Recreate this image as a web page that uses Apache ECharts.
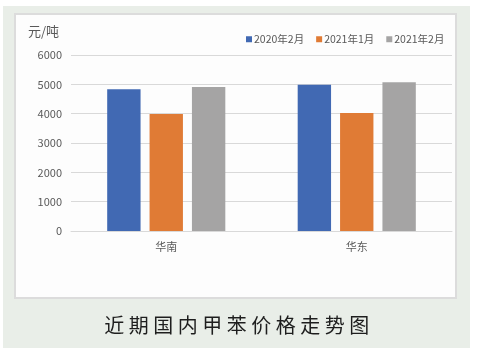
<!DOCTYPE html>
<html>
<head>
<meta charset="utf-8">
<script src="https://cdn.jsdelivr.net/npm/echarts@6/dist/echarts.min.js"></script>
<style>
  body { margin: 0; background: #ffffff; }
  #wrap { position: relative; width: 478px; height: 352px; }
  #main { position: absolute; left: 0; top: 0; width: 478px; height: 352px; }
  #caption {
    position: absolute; left: 0; top: 311px; width: 478px; text-align: center;
    font-family: "Noto Sans CJK SC", sans-serif; font-size: 20px; letter-spacing: 4.5px;
    color: #1e1e1e; line-height: 28px;
  }
</style>
</head>
<body>
<div id="wrap">
  <div id="main"></div>
  <div id="caption">近期国内甲苯价格走势图</div>
</div>
<script>
// 地区
const regions = ['华南', '华东']
// 三个时间点的价格（元/吨）
const seriesNames = ['2020年2月', '2021年1月', '2021年2月']
const feb2020 = [4830, 4990]
const jan2021 = [3990, 4020]
const feb2021 = [4910, 5070]
const colors = ['#4169b3', '#e07b35', '#a5a4a4']

const chart = echarts.init(document.getElementById('main'))
const font = '"Noto Sans CJK SC", sans-serif'

const option = {
  animation: false,
  color: colors,
  graphic: [
    // 外框背景
    { type: 'rect', left: 3, top: 6, z: -10, shape: { width: 467, height: 342 }, style: { fill: '#e9eee8' } },
    // 图表白底
    { type: 'rect', left: 14, top: 13, z: -9, shape: { width: 441, height: 284 }, style: { fill: '#fdfdfd', stroke: '#dcdcdc', lineWidth: 2 } },
    { type: 'text', left: 28, top: 25, style: { text: '元/吨', fill: '#595959', font: '13px ' + font } }
  ],
  legend: {
    left: 246,
    top: 34,
    padding: [0, 0],
    itemWidth: 6,
    itemHeight: 6,
    itemGap: 12,
    icon: 'rect',
    textStyle: { color: '#595959', fontSize: 10.5, fontFamily: font, padding: [0, 0, 0, -3] }
  },
  grid: { left: 71, right: 26, top: 55, bottom: 121 },
  xAxis: {
    type: 'category',
    data: regions,
    axisLine: { lineStyle: { color: '#d9d9d9' } },
    axisTick: { show: false },
    axisLabel: { color: '#595959', fontSize: 11, fontFamily: font, margin: 10 }
  },
  yAxis: {
    type: 'value',
    min: 0,
    max: 6000,
    interval: 1000,
    axisLine: { show: false },
    axisTick: { show: false },
    splitLine: { lineStyle: { color: '#d9d9d9' } },
    axisLabel: { color: '#595959', fontSize: 11, fontFamily: font, margin: 9, formatter: v => String(v) }
  },
  series: [
    { name: seriesNames[0], type: 'bar', data: feb2020, barGap: '27%', barCategoryGap: '38%' },
    { name: seriesNames[1], type: 'bar', data: jan2021 },
    { name: seriesNames[2], type: 'bar', data: feb2021 }
  ]
}
chart.setOption(option)
</script>
</body>
</html>
